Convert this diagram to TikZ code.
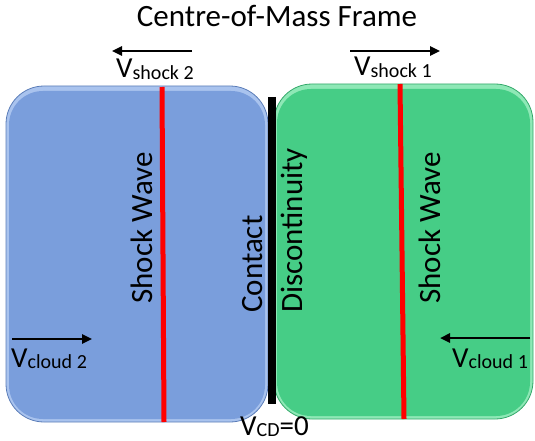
\documentclass[tikz,border=0pt]{standalone}
\usepackage{fontspec}
\setmainfont{Carlito}
\usetikzlibrary{arrows.meta}
\definecolor{bluebox}{HTML}{7A9EDC}
\definecolor{blueedge}{HTML}{5B7DB8}
\definecolor{bluelight}{HTML}{A9C3EE}
\definecolor{greenbox}{HTML}{46CD86}
\definecolor{greenedge}{HTML}{33A86A}
\definecolor{greenlight}{HTML}{8EE8B6}
\tikzset{
  cloudbox/.style={rounded corners=38pt, line width=0.8pt},
  shockline/.style={draw=red, line width=5pt},
  vel/.style={-{Triangle[length=10pt,width=9pt]}, line width=2.4pt},
  biglabel/.style={font=\fontsize{31}{34}\selectfont, inner sep=0pt},
  vlabel/.style={font=\fontsize{29}{32}\selectfont, inner sep=0pt, anchor=base west},
}
\newcommand{\Vsub}[1]{V\raisebox{-0.05em}{\fontsize{20}{22}\selectfont #1}}
\begin{document}
\begin{tikzpicture}[x=1pt,y=-1pt]
\useasboundingbox (0,0) rectangle (535,441);
% boxes
\path[cloudbox, fill=bluelight, draw=blueedge] (6,86) rectangle (268,422);
\path[rounded corners=34pt, fill=bluebox] (9,91) rectangle (265,419);
\path[cloudbox, fill=greenlight, draw=greenedge] (274,84) rectangle (533,419);
\path[rounded corners=34pt, fill=greenbox] (277,89) rectangle (530,416);
% named anchors
\coordinate (s2t) at (162,87);
\coordinate (s2b) at (164,422);
\coordinate (s1t) at (400,84);
\coordinate (s1b) at (404,419);
\coordinate (cdt) at (272,97);
\coordinate (cdb) at (272,404);
\draw[shockline] (s2t) -- (s2b);
\draw[shockline] (s1t) -- (s1b);
\draw[line width=8pt] (cdt) -- (cdb);
% title
\node[biglabel, anchor=base] (title) at (277,27) {Centre-of-Mass Frame};
% rotated texts
\node[biglabel, rotate=90, anchor=base] (sw2) at (152,228) {Shock Wave};
\node[biglabel, rotate=90, anchor=base west] (cont) at (262,313) {Contact};
\node[biglabel, rotate=90, anchor=base west] (disc) at (302,313) {Discontinuity};
\node[biglabel, rotate=90, anchor=base] (sw1) at (440,228) {Shock Wave};
% velocity arrows
\coordinate (a2s) at (192,51); \coordinate (a2e) at (112,51);
\coordinate (a1s) at (350,51); \coordinate (a1e) at (440,51);
\coordinate (c2s) at (12,339); \coordinate (c2e) at (92,339);
\coordinate (c1s) at (530,338); \coordinate (c1e) at (440,338);
\draw[vel] (a2s) -- (a2e);
\draw[vel] (a1s) -- (a1e);
\draw[vel] (c2s) -- (c2e);
\draw[vel] (c1s) -- (c1e);
\node[vlabel] (vs2) at (116,78) {\Vsub{shock 2}};
\node[vlabel] (vs1) at (354,76) {\Vsub{shock 1}};
\node[vlabel] (vc2) at (11,367) {\Vsub{cloud 2}};
\node[vlabel] (vc1) at (452,367) {\Vsub{cloud 1}};
\node[vlabel] (vcd) at (240,435) {V\raisebox{-0.05em}{\fontsize{20}{22}\selectfont CD}=0};
\end{tikzpicture}
\end{document}
